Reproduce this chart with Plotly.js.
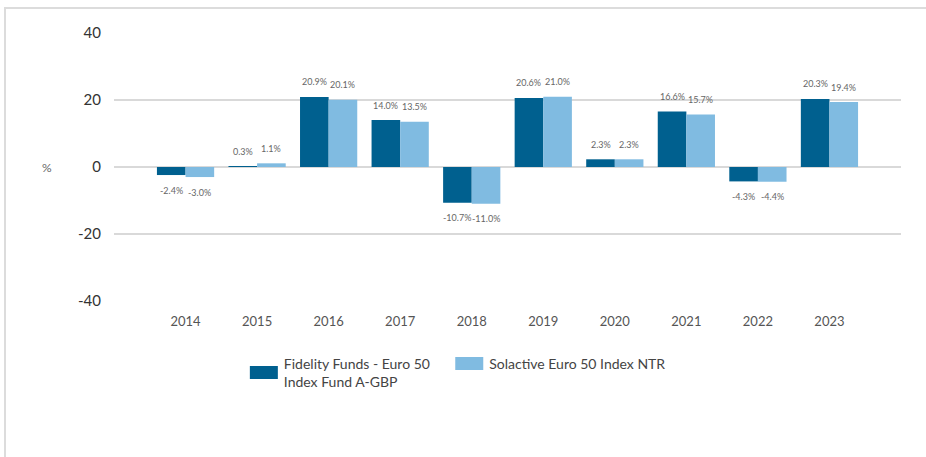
<!DOCTYPE html>
<html>
<head>
<meta charset="utf-8">
<script src="https://cdn.plot.ly/plotly-3.0.1.min.js"></script>
<style>
  html, body { margin: 0; padding: 0; background: #fff; }
  #frame { position: absolute; left: 4px; top: 7px; width: 922px; height: 450px;
           border-top: 2px solid #dcdcdc; border-left: 2px solid #dcdcdc; box-sizing: border-box; }
  #chart { position: absolute; left: 0; top: 0; width: 926px; height: 457px; }
</style>
</head>
<body>
<div id="frame"></div>
<div id="chart"></div>
<script>
const years = ["2014","2015","2016","2017","2018","2019","2020","2021","2022","2023"];
const fundName = "Fidelity Funds - Euro 50\u00a0\u00a0\u00a0\u00a0<br>Index Fund A-GBP";
const indexName = "Solactive Euro 50 Index NTR";
const fundValues = [-2.4, 0.3, 20.9, 14.0, -10.7, 20.6, 2.3, 16.6, -4.3, 20.3];
const indexValues = [-3.0, 1.1, 20.1, 13.5, -11.0, 21.0, 2.3, 15.7, -4.4, 19.4];
const yTicks = [-40, -20, 0, 20, 40];

const darkBlue = "#00608f";
const lightBlue = "#80bbe1";
const FONT = "Lato, 'Open Sans', sans-serif";

const traces = [
  { type: "bar", name: fundName, x: years, y: fundValues,
    marker: { color: darkBlue }, hoverinfo: "skip" },
  { type: "bar", name: indexName, x: years, y: indexValues,
    marker: { color: lightBlue }, hoverinfo: "skip" }
];

const annotations = [];
function addLabels(vals, xshift) {
  vals.forEach((v, i) => {
    annotations.push({
      x: i, y: v, xref: "x", yref: "y",
      text: v.toFixed(1) + "%", showarrow: false,
      xshift: xshift, yshift: v >= 0 ? 15 : -15,
      yanchor: "middle", xanchor: "center",
      font: { family: FONT, size: 9, color: "#666666" }
    });
  });
}
addLabels(fundValues, -14.3);
addLabels(indexValues, 14.3);
annotations.push({
  xref: "paper", yref: "paper", x: -0.085, y: 0.5, text: "%",
  showarrow: false, xanchor: "center", yanchor: "middle",
  font: { family: FONT, size: 12, color: "#666666" }
});

const layout = {
  width: 926, height: 457,
  margin: { l: 114, r: 25, t: 33, b: 156 },
  paper_bgcolor: "rgba(0,0,0,0)", plot_bgcolor: "rgba(0,0,0,0)",
  font: { family: FONT, color: "#444" },
  barmode: "group", bargap: 0.2, bargroupgap: 0,
  showlegend: true,
  legend: { orientation: "h", x: 0.165, xanchor: "left", y: -0.175, yanchor: "top",
            font: { family: FONT, size: 14, color: "#444" }, traceorder: "normal" },
  xaxis: { type: "category", range: [-1, 10], showgrid: false, zeroline: false,
           showline: false, ticks: "", tickfont: { family: FONT, size: 13, color: "#555" },
           ticklabelstandoff: 11 },
  yaxis: { range: [-40, 40], tickvals: yTicks, ticktext: yTicks.map(String),
           showgrid: true, gridcolor: "#d9d9d9", gridwidth: 2,
           zeroline: true, zerolinecolor: "#d9d9d9", zerolinewidth: 2,
           showline: false, ticks: "", ticklabelstandoff: 12,
           tickfont: { family: FONT, size: 15, color: "#333" } },
  annotations: annotations
};

Plotly.newPlot("chart", traces, layout, { displayModeBar: false, staticPlot: true }).then(gd => {
  gd.querySelectorAll(".legendpoints path").forEach(p => {
    p.setAttribute("d", "M14,6.5H-14V-6.5H14Z");
  });
});
</script>
</body>
</html>
